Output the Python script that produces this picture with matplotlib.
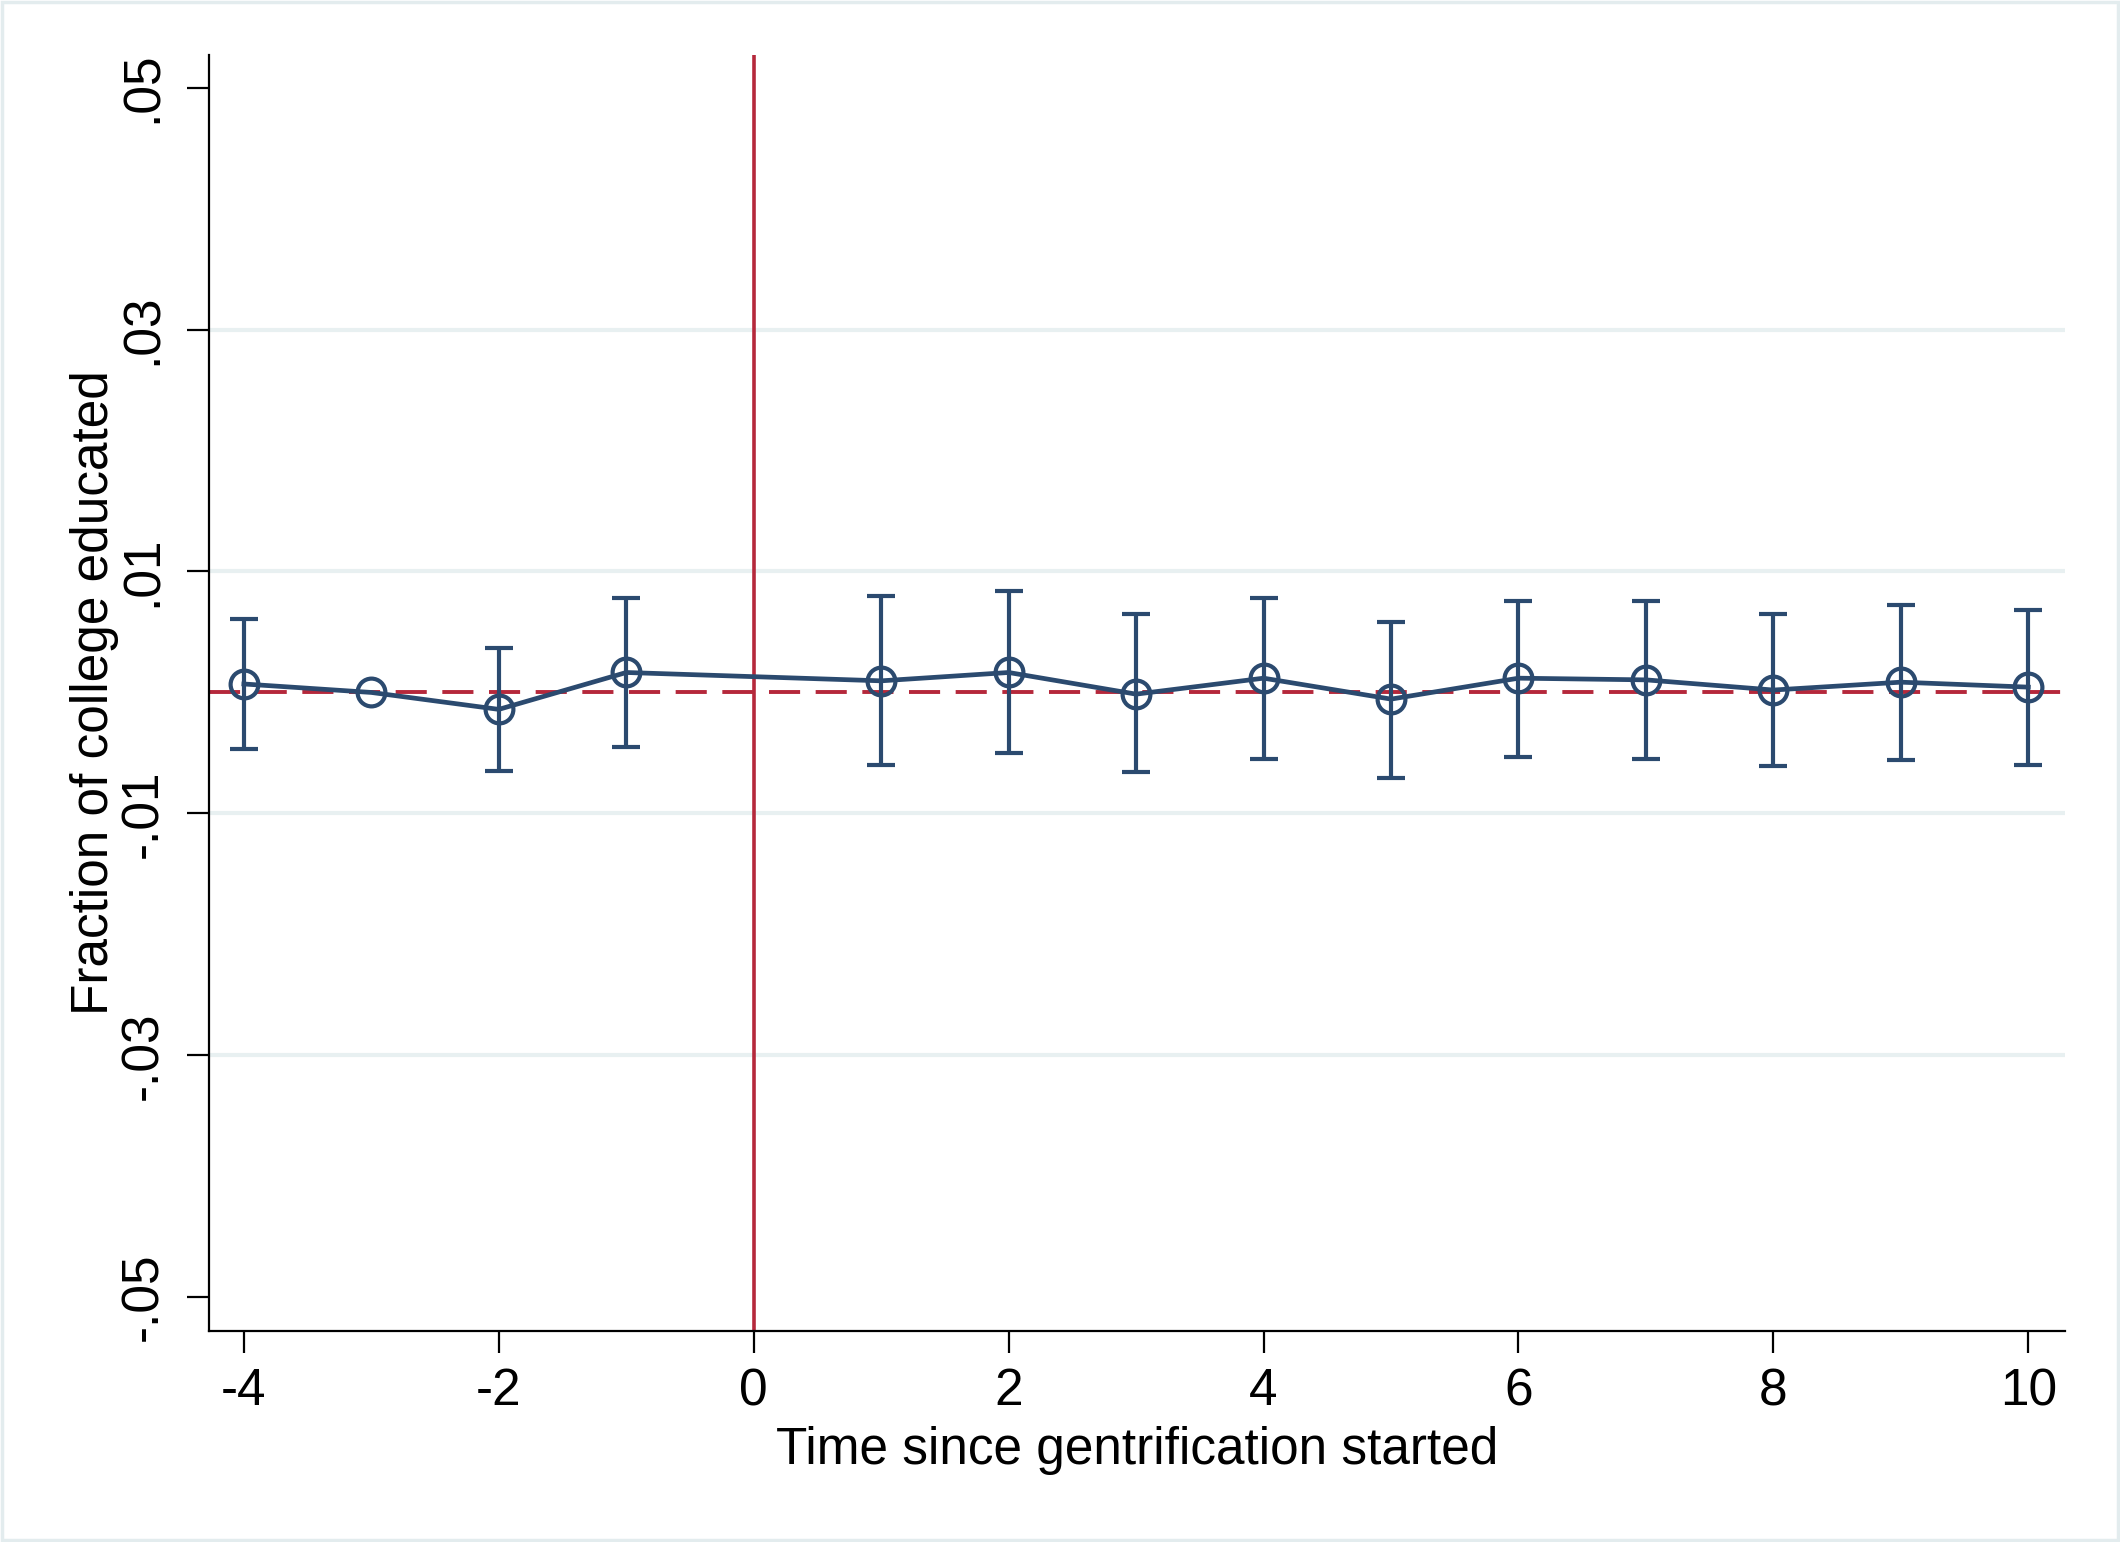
import matplotlib
matplotlib.use("Agg")
import matplotlib.pyplot as plt
from matplotlib.patches import Rectangle

plt.rcParams['font.family'] = ['Liberation Sans', 'DejaVu Sans']

# event-study estimates (time 0 omitted, -3 is the reference year)
years = [-4, -3, -2, -1, 1, 2, 3, 4, 5, 6, 7, 8, 9, 10]
coefs = [0.0007, 0.0, -0.0014, 0.00165, 0.00096, 0.00165, -0.00014,
         0.00118, -0.00055, 0.00118, 0.00104, 0.0002, 0.00085, 0.00044]
ci_hi = [0.0061, None, 0.0037, 0.0078, 0.0080, 0.0084, 0.0065,
         0.0078, 0.0058, 0.0076, 0.0076, 0.0065, 0.0072, 0.0068]
ci_lo = [-0.0047, None, -0.0065, -0.0045, -0.0060, -0.0050, -0.0066,
         -0.0055, -0.0071, -0.0053, -0.0055, -0.0061, -0.0056, -0.0060]

yticks = [0.05, 0.03, 0.01, -0.01, -0.03, -0.05]
ytick_labels = ['.05', '.03', '.01', '-.01', '-.03', '-.05']
xticks = [-4, -2, 0, 2, 4, 6, 8, 10]

navy = '#2b4a6f'
red = '#b5283b'
grid_col = '#e8f0f1'

fig = plt.figure(figsize=(21.2, 15.42), dpi=100)
ax = fig.add_axes([0.0988, 0.1368, 0.9742 - 0.0988, 0.9643 - 0.1368])

# faint frame around the whole graph region
fig.patches.append(Rectangle((0.001, 0.001), 0.998, 0.998, transform=fig.transFigure,
                             fill=False, edgecolor='#e3ecee', linewidth=2.5))

for yv in [0.03, 0.01, -0.01, -0.03]:
    ax.axhline(yv, color=grid_col, linewidth=3, zorder=0)

ax.axhline(0, color=red, linewidth=2.8, dashes=(8, 4), zorder=1)
ax.axvline(0, color=red, linewidth=2.6, zorder=1)

# confidence intervals (skip the reference year)
ex, ey, elo, ehi = [], [], [], []
for x, c, lo, hi in zip(years, coefs, ci_lo, ci_hi):
    if lo is None:
        continue
    ex.append(x)
    ey.append(c)
    elo.append(c - lo)
    ehi.append(hi - c)
ax.errorbar(ex, ey, yerr=[elo, ehi], fmt='none', ecolor=navy, elinewidth=3.0,
            capsize=10, capthick=3.0, zorder=2)

ax.plot(years, coefs, color=navy, linewidth=3.4, marker='o', markersize=20,
        markerfacecolor='none', markeredgecolor=navy, markeredgewidth=3.0, zorder=3)

ax.set_xlim(-4.27, 10.29)
ax.set_ylim(-0.0528, 0.0527)
ax.set_xticks(xticks)
ax.set_xticklabels([str(v) for v in xticks])
ax.set_yticks(yticks)
ax.set_yticklabels(ytick_labels, rotation=90, va='center')

for side in ['top', 'right']:
    ax.spines[side].set_visible(False)
for side in ['left', 'bottom']:
    ax.spines[side].set_linewidth(1.6)
ax.tick_params(axis='both', direction='out', length=16, width=1.6, labelsize=37)
ax.tick_params(axis='x', pad=10)
ax.tick_params(axis='y', pad=14)

ax.set_xlabel('Time since gentrification started', fontsize=37, labelpad=7)
ax.set_ylabel('Fraction of college educated', fontsize=37, labelpad=0)

fig.savefig('out.png', dpi=100, facecolor='white')
